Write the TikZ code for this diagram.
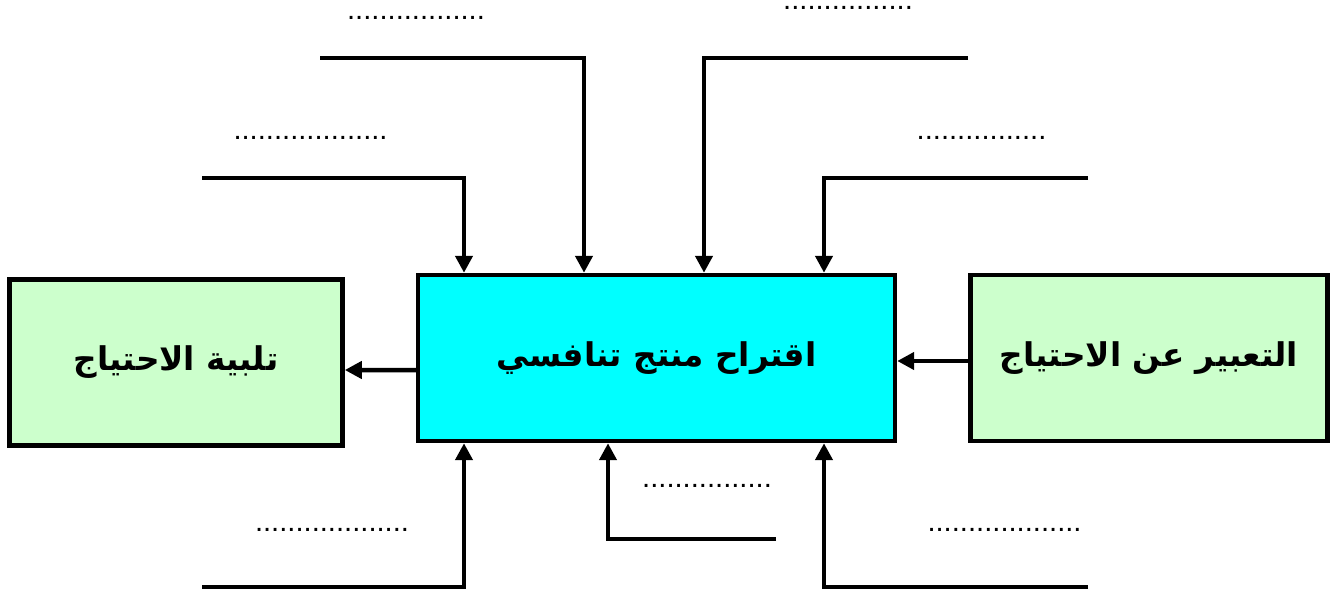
\documentclass[tikz,border=0pt]{standalone}
\usepackage{fontspec}
\setmainfont{Liberation Sans}
\newfontfamily\arabicfont[Script=Arabic]{DejaVu Sans}
\TeXXeTstate=1
\usetikzlibrary{arrows.meta,positioning}
\definecolor{needgreen}{HTML}{CCFFCC}
\definecolor{propcyan}{HTML}{00FFFF}
\newcommand{\artext}[1]{{\arabicfont\bfseries\beginR #1\endR}}

\begin{document}
\begin{tikzpicture}[x=0.02cm, y=-0.02cm, node distance=1.42cm,
    main node/.style={rectangle, draw, line width=0.09cm, minimum height=3.32cm, font=\fontsize{18.6}{22}\selectfont},
    dots node/.style={anchor=base, inner sep=0pt, font=\fontsize{16.6}{20}\selectfont},
    flow/.style={line width=0.09cm, -{Triangle[length=0.34cm,width=0.34cm]}}]
            \useasboundingbox (0,0) rectangle (1333,592);

              \node[main node, fill=propcyan, minimum width=9.54cm] (prop) at (656.5,358) {\artext{اقتراح منتج تنافسي}};
              \node[main node, fill=needgreen, minimum width=6.66cm] (meet) [left=of prop, yshift=-0.09cm] {\artext{تلبية الاحتياج}};
              \node[main node, fill=needgreen, minimum width=7.14cm] (express) [right=of prop] {\artext{التعبير عن الاحتياج}};

              \draw[flow] ([yshift=-0.06cm]express.west) -- ([yshift=-0.06cm]prop.east);
              \draw[flow] ([yshift=-0.24cm]prop.west) -- ([yshift=-0.15cm]meet.east);

              % inputs from above
              \coordinate (top1) at (202,178);
              \coordinate (top2) at (320,58);
              \coordinate (top3) at (968,58);
              \coordinate (top4) at (1088,178);
              \coordinate (bend1) at (464,178);
              \coordinate (bend2) at (584,58);
              \coordinate (bend3) at (704,58);
              \coordinate (bend4) at (824,178);
              \draw[flow] (top1) -- (bend1) -- (bend1 |- prop.north);
              \draw[flow] (top2) -- (bend2) -- (bend2 |- prop.north);
              \draw[flow] (top3) -- (bend3) -- (bend3 |- prop.north);
              \draw[flow] (top4) -- (bend4) -- (bend4 |- prop.north);

              % inputs from below
              \coordinate (low1) at (202,587);
              \coordinate (low2) at (776,539);
              \coordinate (low3) at (1088,587);
              \coordinate (bend5) at (464,587);
              \coordinate (bend6) at (608,539);
              \coordinate (bend7) at (824,587);
              \draw[flow] (low1) -- (bend5) -- (bend5 |- prop.south);
              \draw[flow] (low2) -- (bend6) -- (bend6 |- prop.south);
              \draw[flow] (low3) -- (bend7) -- (bend7 |- prop.south);

              \node[dots node] (dots1) at (416,19) {.................};
              \node[dots node] (dots2) at (310.5,139) {...................};
              \node[dots node] (dots3) at (848,9) {................};
              \node[dots node] (dots4) at (981.5,139) {................};
              \node[dots node] (dots5) at (332,531) {...................};
              \node[dots node] (dots6) at (707,487) {................};
              \node[dots node] (dots7) at (1004.5,531) {...................};

            \end{tikzpicture}
\end{document}
